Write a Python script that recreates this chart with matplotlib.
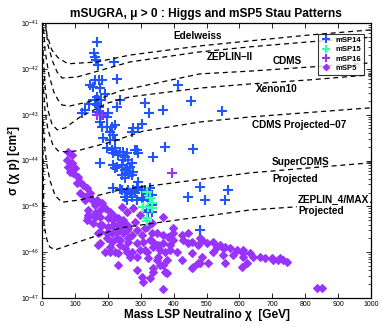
import numpy as np
import matplotlib
matplotlib.use("Agg")
import matplotlib.pyplot as plt
from matplotlib.ticker import FixedLocator, NullFormatter, MultipleLocator, LogFormatterMathtext

plt.rcParams['font.family'] = ['Liberation Sans', 'DejaVu Sans']

# ---------------- data (mass in GeV, log10 of sigma in cm^2) ----------------
msp14_mass = [167, 158, 161, 164, 170, 219, 161, 173, 182, 146, 155, 228, 176, 167, 161, 170, 179, 192,
              143, 131, 122, 167, 173, 167, 176, 185, 201, 237, 228, 313, 325, 368, 413, 453, 547, 304,
              277, 292, 246, 283, 292, 374, 337, 459, 198, 176, 182, 198, 213, 222, 207, 216, 185, 207,
              222, 274, 198, 213, 222, 237, 258, 216, 231, 252, 246, 261, 274, 289, 176, 216, 222, 228,
              258, 261, 277, 252, 216, 243, 261, 277, 292, 252, 274, 304, 319, 334, 480, 565, 444, 496,
              556, 243, 268, 252, 268, 243, 274, 292, 289, 304, 313, 328, 237, 258, 268, 283, 322, 258,
              289, 307, 322, 334, 319, 322, 334, 480]
msp14_logsig = [-41.41, -41.65, -41.74, -41.81, -41.92, -41.85, -42.24, -42.24, -42.24, -42.35, -42.40,
                -42.22, -42.42, -42.61, -42.68, -42.68, -42.68, -42.55, -42.77, -42.90, -42.96, -42.79,
                -42.83, -42.94, -42.96, -43.01, -42.96, -42.68, -42.83, -42.75, -42.96, -42.90, -42.35,
                -42.70, -42.92, -43.20, -43.29, -43.29, -43.81, -43.77, -43.84, -43.71, -43.92, -43.75,
                -43.05, -43.16, -43.27, -43.27, -43.27, -43.23, -43.38, -43.44, -43.51, -43.55, -43.55,
                -43.38, -43.73, -43.77, -43.73, -43.81, -43.84, -43.84, -43.88, -43.92, -43.99, -43.99,
                -44.05, -43.77, -44.05, -44.10, -44.16, -44.14, -44.16, -44.27, -44.25, -44.38, -44.60,
                -44.64, -44.64, -44.64, -44.60, -44.80, -44.80, -44.82, -44.80, -44.75, -44.58, -44.64,
                -44.80, -44.86, -44.86, -44.10, -44.14, -44.21, -44.25, -44.32, -44.32, -44.47, -44.58,
                -44.64, -44.64, -44.60, -44.62, -44.69, -44.71, -44.71, -44.71, -44.86, -44.86, -44.82,
                -44.86, -44.97, -45.08, -45.12, -45.12, -45.52]

msp15_mass = [319, 328, 334, 322, 307, 334, 319, 319]
msp15_logsig = [-44.69, -44.82, -44.93, -45.01, -45.01, -45.04, -45.25, -45.32]

msp16_mass = [167, 182, 395]
msp16_logsig = [-43.01, -43.01, -44.27]

msp5_mass = [79, 91, 76, 91, 79, 100, 85, 94, 109, 116, 106, 125, 137, 116, 146, 131, 152, 167, 131, 161,
             182, 192, 176, 140, 140, 161, 207, 216, 201, 231, 246, 182, 216, 237, 258, 176, 213, 246, 198,
             228, 261, 170, 207, 237, 192, 222, 258, 231,
             140, 161, 176, 137, 155, 216, 176, 201, 237, 170, 198, 228, 258, 274, 289, 304, 319, 334, 176,
             213, 237, 261, 289, 307, 328, 350, 368, 383, 398, 426, 444, 429, 456, 480, 502, 520, 541, 556,
             571, 593, 581, 611, 632, 641, 663, 678, 699, 717, 733, 745, 207, 231, 252, 274, 298, 319, 337,
             353, 389, 289, 304, 307, 350, 359, 374, 368, 337, 380, 410, 426, 456, 474, 505, 520, 550, 608,
             623, 836, 851,
             368, 398, 398, 444, 486, 532, 550, 611, 556, 480, 459, 474, 456, 486, 389, 374, 368, 380, 337,
             328, 243, 258, 277, 298, 283, 261, 313, 334, 337, 368, 359, 313, 289, 268, 322, 353,
             611, 702, 723]
msp5_logsig = [-43.81, -43.88, -43.99, -44.05, -44.14, -44.16, -44.25, -44.27, -44.36, -44.47, -44.49, -44.53,
               -44.60, -44.71, -44.71, -44.80, -44.86, -44.86, -44.86, -44.97, -44.93, -45.04, -45.08, -45.08,
               -45.23, -45.23, -45.12, -45.19, -45.25, -45.25, -45.30, -45.41, -45.41, -45.45, -45.41, -45.56,
               -45.58, -45.58, -45.69, -45.69, -45.69, -45.84, -45.89, -45.84, -46.00, -46.00, -46.00, -46.28,
               -45.19, -45.15, -45.23, -45.30, -45.36, -45.30, -45.41, -45.45, -45.36, -45.58, -45.58, -45.56,
               -45.52, -45.63, -45.52, -45.63, -45.45, -45.36, -45.80, -45.78, -45.73, -45.78, -45.80, -45.78,
               -45.73, -45.58, -45.63, -45.67, -45.58, -45.63, -45.58, -45.73, -45.78, -45.69, -45.80, -45.78,
               -45.84, -45.89, -45.91, -45.95, -46.06, -46.02, -46.02, -46.11, -46.11, -46.13, -46.13, -46.17,
               -46.17, -46.21, -46.00, -46.02, -45.91, -46.00, -45.95, -46.00, -45.89, -45.84, -45.84, -46.39,
               -46.54, -46.65, -46.17, -46.28, -46.43, -46.80, -46.43, -46.17, -46.00, -46.17, -46.35, -46.24,
               -46.24, -46.00, -46.06, -46.32, -46.24, -46.78, -46.78,
               -45.23, -45.47, -45.73, -45.80, -45.73, -45.89, -45.91, -46.11, -46.24, -46.24, -46.32, -45.84,
               -46.02, -46.11, -45.95, -46.00, -46.28, -46.45, -46.35, -46.56, -45.01, -45.12, -45.04, -45.19,
               -45.34, -45.47, -45.47, -45.58, -45.78, -45.80, -45.95, -45.95, -46.11, -46.11, -46.13, -46.11,
               -45.95, -46.17, -46.13]

# limit curves: (mass GeV, log10 sigma)
edelweiss_mass = [5, 15, 30, 49, 79, 167, 267, 480, 632, 815, 1000]
edelweiss_logsig = [-40.6, -41.26, -41.59, -41.76, -41.89, -41.85, -41.70, -41.50, -41.39, -41.26, -41.15]
zeplin2_mass = [5, 18, 33, 46, 61, 106, 267, 480, 632, 815, 1000]
zeplin2_logsig = [-40.7, -41.48, -41.85, -42.07, -42.20, -42.18, -41.85, -41.63, -41.52, -41.41, -41.31]
cdms_mass = [3, 9, 21, 36, 49, 61, 85, 167, 237, 480, 632, 815, 1000]
cdms_logsig = [-40.93, -41.59, -42.13, -42.51, -42.68, -42.79, -42.81, -42.68, -42.48, -42.11, -42.05, -41.96, -41.87]
xenon_mass = [3, 9, 18, 30, 46, 70, 116, 198, 268, 480, 632, 815, 1000]
xenon_logsig = [-41.59, -42.35, -42.90, -43.20, -43.33, -43.29, -43.05, -42.75, -42.61, -42.42, -42.33, -42.24, -42.13]
cdmsp_mass = [3, 9, 18, 33, 49, 70, 106, 207, 307, 480, 632, 1000]
cdmsp_logsig = [-42.24, -42.90, -43.33, -43.66, -43.79, -43.81, -43.79, -43.60, -43.36, -43.16, -43.05, -42.85]
supercdms_mass = [3, 9, 15, 24, 40, 61, 116, 237, 632, 1000]
supercdms_logsig = [-43.12, -43.77, -44.10, -44.43, -44.77, -44.91, -44.86, -44.64, -44.27, -44.05]
zeplin4_mass = [3, 6, 15, 24, 40, 64, 237, 632, 775, 1000]
zeplin4_logsig = [-43.77, -45.41, -45.73, -45.89, -45.95, -45.89, -45.47, -45.08, -45.01, -44.91]

y_decades = [-47, -46, -45, -44, -43, -42, -41]

# ---------------- figure ----------------
fig = plt.figure(figsize=(3.82, 3.27), dpi=100)
ax = fig.add_axes([42/382, 1-298/327, (371-42)/382, (298-23)/327])

def p(v):
    return 10.0 ** np.asarray(v, dtype=float)

c14, c15, c16, c5 = '#2255ff', '#33ffaa', '#9933ff', '#9933ff'

ax.plot(msp5_mass, p(msp5_logsig), linestyle='none', marker='D', ms=4.2, color=c5,
        mec=c5, mew=0.8, label='mSP5', zorder=3)
ax.plot(msp14_mass, p(msp14_logsig), linestyle='none', marker='+', ms=6.5, mew=1.5, color=c14,
        label='mSP14', zorder=4)
ax.plot(msp15_mass, p(msp15_logsig), linestyle='none', marker='+', ms=6.5, mew=1.5, color=c15,
        label='mSP15', zorder=4)
ax.plot(msp16_mass, p(msp16_logsig), linestyle='none', marker='+', ms=6.5, mew=1.5, color=c16,
        label='mSP16', zorder=4)

for mm, ll in [(edelweiss_mass, edelweiss_logsig), (zeplin2_mass, zeplin2_logsig),
               (cdms_mass, cdms_logsig), (xenon_mass, xenon_logsig), (cdmsp_mass, cdmsp_logsig),
               (supercdms_mass, supercdms_logsig), (zeplin4_mass, zeplin4_logsig)]:
    ax.plot(mm, p(ll), color='black', lw=0.9, dashes=(4, 3), zorder=5)

ax.set_yscale('log')
ax.set_xlim(0, 1000)
ax.set_ylim(1e-47, 1e-41)
ax.xaxis.set_major_locator(MultipleLocator(100))
ax.yaxis.set_major_locator(FixedLocator(p(y_decades)))
ax.yaxis.set_major_formatter(LogFormatterMathtext())
minor = [k * 10.0 ** d for d in y_decades[:-1] for k in range(2, 10)]
ax.yaxis.set_minor_locator(FixedLocator(minor))
ax.yaxis.set_minor_formatter(NullFormatter())
ax.tick_params(axis='both', which='both', direction='in', top=True, right=True, labelsize=5, pad=2)
ax.tick_params(which='major', length=3.5, width=0.6)
ax.tick_params(which='minor', length=2, width=0.5)
for s in ax.spines.values():
    s.set_linewidth(0.9)

tfs = 7.2
ax.text(474, p(-41.28), 'Edelweiss', ha='center', va='center', fontsize=tfs, fontweight='bold', zorder=6)
ax.text(571, p(-41.74), 'ZEPLIN\u2013II', ha='center', va='center', fontsize=tfs, fontweight='bold', zorder=6)
ax.text(745, p(-41.83), 'CDMS', ha='center', va='center', fontsize=tfs, fontweight='bold', zorder=6)
ax.text(714, p(-42.44), 'Xenon10', ha='center', va='center', fontsize=tfs, fontweight='bold', zorder=6)
ax.text(781, p(-43.23), 'CDMS Projected\u201307', ha='center', va='center', fontsize=tfs, fontweight='bold', zorder=6)
ax.text(699, p(-44.03), 'SuperCDMS', ha='left', va='center', fontsize=tfs, fontweight='bold', zorder=6)
ax.text(699, p(-44.40), 'Projected', ha='left', va='center', fontsize=tfs, fontweight='bold', zorder=6)
ax.text(778, p(-44.86), 'ZEPLIN_4/MAX', ha='left', va='center', fontsize=tfs, fontweight='bold', zorder=6,
        bbox=dict(facecolor='white', edgecolor='none', pad=0.5))
ax.text(778, p(-45.10), 'Projected', ha='left', va='center', fontsize=tfs, fontweight='bold', zorder=6,
        bbox=dict(facecolor='white', edgecolor='none', pad=0.5))

handles, labels = ax.get_legend_handles_labels()
order = [1, 2, 3, 0]
leg = ax.legend([handles[i] for i in order], [labels[i] for i in order], loc='upper right',
                bbox_to_anchor=(0.99, 0.975), fontsize=5.5, frameon=True, fancybox=False,
                edgecolor='black', borderpad=0.4, labelspacing=0.25, handletextpad=0.6,
                handlelength=1.2, markerscale=0.8)
leg.get_frame().set_linewidth(0.8)
leg.set_zorder(10)
for t in leg.get_texts():
    t.set_fontweight('bold')

fig.text(206/382, 1-14/327, 'mSUGRA, \u03bc > 0 : Higgs and mSP5 Stau Patterns', ha='center', va='center',
         fontsize=8.6, fontweight='bold')
ax.set_xlabel('Mass LSP Neutralino \u03c7  [GeV]', fontsize=8.6, fontweight='bold', labelpad=1)
ax.set_ylabel('\u03c3 (\u03c7 p) [cm\u00b2]', fontsize=8.6, fontweight='bold', labelpad=1)

fig.savefig('out.png', dpi=100)
